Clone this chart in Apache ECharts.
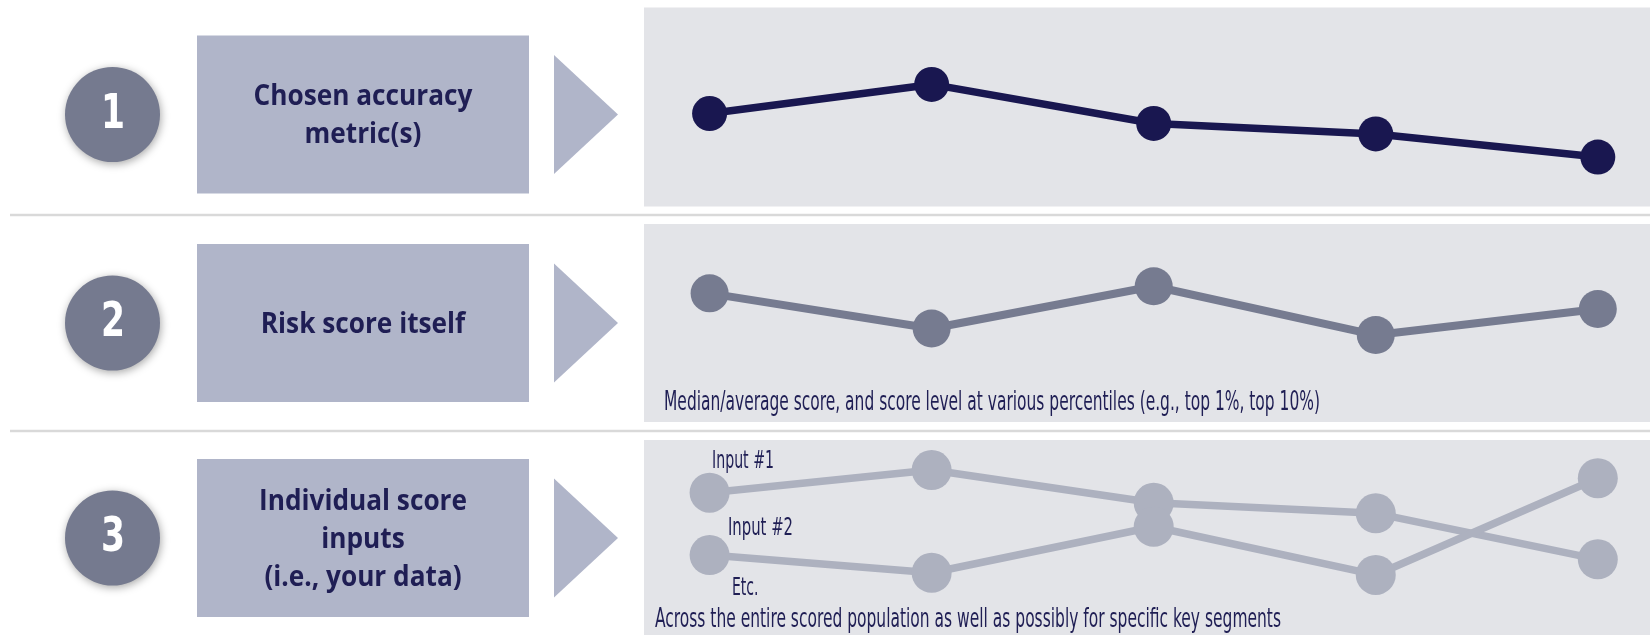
<!DOCTYPE html>
<html>
<head>
<meta charset="utf-8">
<script src="https://cdn.jsdelivr.net/npm/echarts@6/dist/echarts.min.js"></script>
<style>
  html, body { margin: 0; padding: 0; background: #fff; }
  #graph { width: 1650px; height: 635px; }
</style>
</head>
<body>
<div id="graph"></div>
<script>
// values (arbitrary 0-100 scale per panel)
var points = ['P1', 'P2', 'P3', 'P4', 'P5'];
var accuracyMetric = [46.7, 61.4, 41.7, 36.4, 24.7];
var riskScore = [64.8, 47.1, 68.4, 43.8, 56.9];
var input1 = [73.0, 84.6, 67.8, 62.4, 38.8];
var input2 = [41.0, 31.9, 55.5, 30.8, 80.4];

var stepNumbers = ['1', '2', '3'];
var stepTitles = ['Chosen accuracy\nmetric(s)', 'Risk score itself', 'Individual score\ninputs\n(i.e., your data)'];
var inputLabels = ['Input #1', 'Input #2', 'Etc.'];
var noteScore = 'Median/average score, and score level at various percentiles (e.g., top 1%, top 10%)';
var notePopulation = 'Across the entire scored population as well as possibly for specific key segments';

var navy = '#1f1e54';
var panelBg = '#e3e4e8';
var boxColor = '#b0b5c9';
var circleColor = '#757a8f';
var lineColors = ['#191750', '#767b90', '#adb1bf'];

// row layout
var rows = [
  { mid: 114.5, panelTop: 7.5, panelBottom: 206.5 },
  { mid: 323, panelTop: 224, panelBottom: 422 },
  { mid: 538, panelTop: 440, panelBottom: 635 }
];
var sepY = [215, 431];

var condensed = '"Liberation Sans Narrow", "DejaVu Sans Condensed", "Roboto Condensed", sans-serif';
var titleFont = '"Open Sans", Lato, sans-serif';

// measure text so labels keep the reference width
var ctx = document.createElement('canvas').getContext('2d');
function widthOf(text, size, weight, family) {
  ctx.font = weight + ' ' + size + 'px ' + family;
  return ctx.measureText(text).width;
}

function condensedText(text, x, y, size, targetWidth) {
  var w = widthOf(text, size, 'normal', condensed);
  return {
    type: 'text', x: x, y: y, z: 100,
    scaleX: targetWidth / w, scaleY: 1,
    style: {
      text: text, fill: navy, fontSize: size, fontFamily: condensed,
      align: 'left', verticalAlign: 'middle'
    }
  };
}

var titleScale = 208 / widthOf('Individual score', 28, 'bold', titleFont);
var digitScale = 24 / widthOf('3', 48, 'bold', condensed);

var elements = [];
// separators
sepY.forEach(function (y) {
  elements.push({
    type: 'line', z: 0,
    shape: { x1: 10, y1: y, x2: 1650, y2: y },
    style: { stroke: '#d9d9d9', lineWidth: 2.5 }
  });
});

rows.forEach(function (r, i) {
  // panel background
  elements.push({
    type: 'rect', z: 0,
    shape: { x: 644, y: r.panelTop, width: 1006, height: r.panelBottom - r.panelTop },
    style: { fill: panelBg }
  });
  // number circle
  elements.push({
    type: 'circle', z: 1,
    shape: { cx: 112.5, cy: r.mid, r: 47.5 },
    style: {
      fill: circleColor, shadowBlur: 8, shadowColor: 'rgba(0,0,0,0.35)',
      shadowOffsetX: 1, shadowOffsetY: 2
    }
  });
  elements.push({
    type: 'text', z: 2, x: 113, y: r.mid + 1, scaleX: digitScale,
    style: {
      text: stepNumbers[i], fill: '#ffffff', fontSize: 48, fontWeight: 'bold',
      fontFamily: condensed, align: 'center', verticalAlign: 'middle'
    }
  });
  // title box
  elements.push({
    type: 'rect', z: 1,
    shape: { x: 197, y: r.mid - 79, width: 332, height: 158 },
    style: { fill: boxColor }
  });
  elements.push({
    type: 'text', z: 2, x: 363, y: r.mid + 2, scaleX: titleScale,
    style: {
      text: stepTitles[i], fill: navy, fontSize: 28, fontWeight: 'bold',
      fontFamily: titleFont, lineHeight: 38,
      align: 'center', verticalAlign: 'middle'
    }
  });
  // arrow
  elements.push({
    type: 'polygon', z: 1,
    shape: { points: [[554, r.mid - 59.5], [618, r.mid], [554, r.mid + 59.5]] },
    style: { fill: boxColor }
  });
});

elements.push(condensedText(noteScore, 664, 403, 27, 656));
elements.push(condensedText(notePopulation, 655, 620, 27, 626));
elements.push(condensedText(inputLabels[0], 712, 462, 24, 62));
elements.push(condensedText(inputLabels[1], 728, 528.5, 24, 65));
elements.push(condensedText(inputLabels[2], 732, 588.5, 24, 26.5));

var grids = [
  { left: 709.6, right: 52.2, top: 8, height: 198 },
  { left: 709.6, right: 52.2, top: 223.5, height: 198.5 },
  { left: 709.6, right: 52.2, top: 440, height: 195 }
];

function xAxis(i) {
  return { type: 'category', gridIndex: i, data: points, boundaryGap: false, show: false };
}
function yAxis(i) {
  return { type: 'value', gridIndex: i, min: 0, max: 100, show: false };
}
function lineSeries(name, data, i, color, size, width) {
  return {
    name: name, type: 'line', xAxisIndex: i, yAxisIndex: i, data: data,
    symbol: 'circle', symbolSize: size, clip: false, silent: true, z: 10,
    lineStyle: { color: color, width: width },
    itemStyle: { color: color }
  };
}

var myChart = echarts.init(document.getElementById('graph'));
var option = {
  animation: false,
  grid: grids,
  xAxis: [xAxis(0), xAxis(1), xAxis(2)],
  yAxis: [yAxis(0), yAxis(1), yAxis(2)],
  graphic: { elements: elements },
  series: [
    lineSeries('Accuracy metric', accuracyMetric, 0, lineColors[0], 35, 7.5),
    lineSeries('Risk score', riskScore, 1, lineColors[1], 38, 8),
    lineSeries('Input #1', input1, 2, lineColors[2], 40, 7.5),
    lineSeries('Input #2', input2, 2, lineColors[2], 40, 7.5)
  ]
};
myChart.setOption(option, true);
</script>
</body>
</html>
